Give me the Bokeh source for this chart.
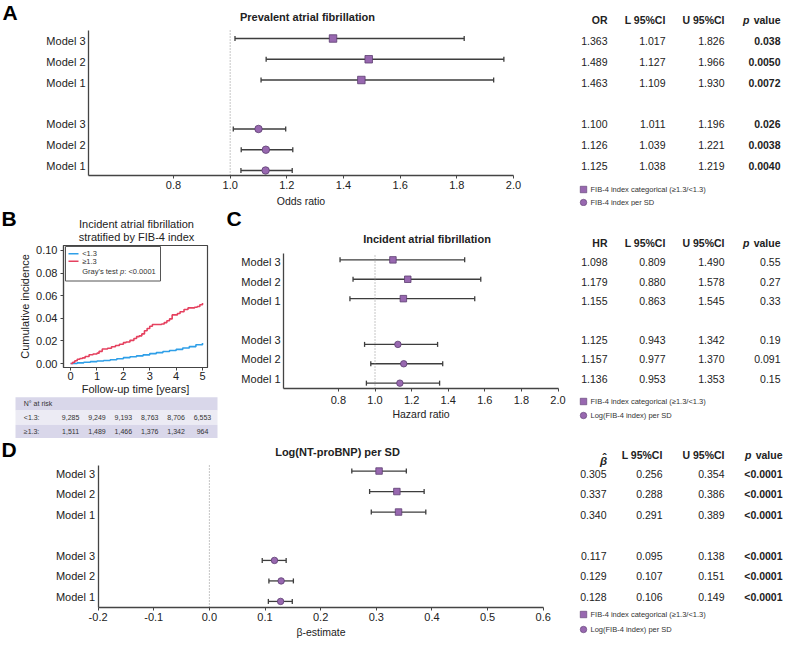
from bokeh.plotting import figure
from bokeh.models import (ColumnDataSource, FixedTicker, PrintfTickFormatter, Whisker,
                          TeeHead, Range1d, LinearAxis)
from bokeh.layouts import column
from bokeh.embed import file_html
from bokeh.resources import INLINE
from bokeh.core.properties import value

FONT = "Liberation Sans"

# ---------------- data ----------------
models = ["Model 3", "Model 2", "Model 1"]

A_cat_est = [1.363, 1.489, 1.463]
A_cat_lo = [1.017, 1.127, 1.109]
A_cat_hi = [1.826, 1.966, 1.930]
A_cat_p = ["0.038", "0.0050", "0.0072"]
A_sd_est = [1.100, 1.126, 1.125]
A_sd_lo = [1.011, 1.039, 1.038]
A_sd_hi = [1.196, 1.221, 1.219]
A_sd_p = ["0.026", "0.0038", "0.0040"]

C_cat_est = [1.098, 1.179, 1.155]
C_cat_lo = [0.809, 0.880, 0.863]
C_cat_hi = [1.490, 1.578, 1.545]
C_cat_p = ["0.55", "0.27", "0.33"]
C_sd_est = [1.125, 1.157, 1.136]
C_sd_lo = [0.943, 0.977, 0.953]
C_sd_hi = [1.342, 1.370, 1.353]
C_sd_p = ["0.19", "0.091", "0.15"]

D_cat_est = [0.305, 0.337, 0.340]
D_cat_lo = [0.256, 0.288, 0.291]
D_cat_hi = [0.354, 0.386, 0.389]
D_cat_p = ["<0.0001", "<0.0001", "<0.0001"]
D_sd_est = [0.117, 0.129, 0.128]
D_sd_lo = [0.095, 0.107, 0.106]
D_sd_hi = [0.138, 0.151, 0.149]
D_sd_p = ["<0.0001", "<0.0001", "<0.0001"]

ratio_ticks = [0.8, 1.0, 1.2, 1.4, 1.6, 1.8, 2.0]
beta_ticks = [-0.2, -0.1, 0.0, 0.1, 0.2, 0.3, 0.4, 0.5, 0.6]

time_ge = [0, 0.08, 0.16, 0.25, 0.35, 0.45, 0.55, 0.7, 0.85, 1.0, 1.08, 1.2, 1.4, 1.55, 1.7,
           1.85, 2.0, 2.1, 2.25, 2.4, 2.5, 2.6, 2.7, 2.8, 2.9, 3.0, 3.1, 3.45, 3.55, 3.65, 3.75,
           3.85, 4.05, 4.15, 4.3, 4.45, 4.7, 4.8, 4.9, 5.0]
cum_ge = [0, 0.0012, 0.0025, 0.0038, 0.0045, 0.005, 0.0062, 0.0078, 0.0085, 0.0092, 0.0108,
          0.0128, 0.0135, 0.0148, 0.016, 0.017, 0.0185, 0.019, 0.0205, 0.0222, 0.0238, 0.0245,
          0.0262, 0.029, 0.031, 0.033, 0.0345, 0.035, 0.0362, 0.0378, 0.0395, 0.043, 0.0442,
          0.0458, 0.0478, 0.0492, 0.0498, 0.0505, 0.052, 0.0535]
time_lt = [0, 0.25, 0.5, 0.75, 1.0, 1.25, 1.5, 1.75, 2.0, 2.25, 2.5, 2.75, 3.0, 3.25, 3.5,
           3.75, 4.0, 4.25, 4.5, 4.75, 5.0]
cum_lt = [0, 0.0006, 0.0012, 0.0017, 0.0022, 0.0027, 0.0033, 0.0042, 0.0052, 0.006, 0.0068,
          0.0077, 0.0088, 0.0097, 0.0106, 0.0115, 0.0125, 0.0138, 0.015, 0.0166, 0.0182]
time_ticks = [0, 1, 2, 3, 4, 5]
cuminc_ticks = [0.0, 0.02, 0.04, 0.06, 0.08, 0.10]
risk_times = [0, 1, 2, 3, 4, 5]
risk_lt = [9285, 9249, 9193, 8763, 8706, 6553]
risk_ge = [1511, 1489, 1466, 1376, 1342, 964]

# ---------------- style ----------------
PURPLE = "#9868b0"
PURPLE_DARK = "#5c3d70"
BAR = "#3d3d3d"
AXIS = "#444444"
TXT = "#222222"
BLUE = "#2f9fe8"
RED = "#e5415f"
W = 785

ROWS_CAT = [6, 5, 4]
ROWS_SD = [2, 1, 0]
CAT_SHIFT = 0.12
SD_SHIFT = -0.24


def lin(v0, p0, v1, p1, c):
    return v0 + (c - p0) * (v1 - v0) / (p1 - p0)


def make_row(top, bottom, xmap, ymap):
    xr = Range1d(lin(*xmap, 0), lin(*xmap, W))
    yr = Range1d(lin(*ymap, bottom), lin(*ymap, top))
    p = figure(width=W, height=bottom - top, x_range=xr, y_range=yr,
               output_backend="svg", toolbar_location=None, min_border=0)
    p.min_border_left = 0
    p.min_border_right = 0
    p.min_border_top = 0
    p.min_border_bottom = 0
    p.extra_x_ranges = {"px": Range1d(0, W)}
    p.extra_y_ranges = {"py": Range1d(bottom, top)}
    p.outline_line_color = None
    p.xgrid.visible = False
    p.ygrid.visible = False
    return p


def txt(p, xs, ys, texts, size, style="normal", align="left", baseline="middle",
        color=TXT, xr="px", yr="py", angle=0.0):
    p.text(x=xs, y=ys, text=texts, text_align=align, text_baseline=baseline,
           text_font=value(FONT), text_font_size=size, text_font_style=style,
           text_color=color, angle=angle, x_range_name=xr, y_range_name=yr)


def draw_forest(p, xb, ticks, ref, ymap, axis_ref, top_ref, cat, sd, msize, xlabel,
                tick_standoff, label_standoff):
    y_axis = lin(*ymap, axis_ref)
    y_top = lin(*ymap, top_ref)
    p.segment(x0=[ref], y0=[y_axis], x1=[ref], y1=[y_top], line_color="#8c8c8c",
              line_dash="1 2", line_width=1)
    for (est, lo, hi), rows, shift, marker in [(cat, ROWS_CAT, CAT_SHIFT, "square"),
                                               (sd, ROWS_SD, SD_SHIFT, "circle")]:
        src = ColumnDataSource(dict(y=[r + shift for r in rows], est=est, lo=lo, hi=hi))
        p.add_layout(Whisker(source=src, base="y", lower="lo", upper="hi", dimension="width",
                             line_color=BAR, line_width=1.3, level="underlay",
                             lower_head=TeeHead(size=5, line_color=BAR, line_width=1.3),
                             upper_head=TeeHead(size=5, line_color=BAR, line_width=1.3)))
        p.scatter("est", "y", source=src, marker=marker, size=msize, fill_color=PURPLE,
                  line_color=PURPLE_DARK, line_width=0.8)
    xa = p.xaxis[0]
    ya = p.yaxis[0]
    xa.fixed_location = y_axis
    xa.bounds = xb
    ya.fixed_location = xb[0]
    ya.bounds = (y_axis, y_top)
    ya.ticker = FixedTicker(ticks=ROWS_CAT + ROWS_SD)
    ov = {}
    for r, m in zip(ROWS_CAT, models):
        ov[r] = m
    for r, m in zip(ROWS_SD, models):
        ov[r] = m
    ya.major_label_overrides = ov
    ya.major_tick_line_color = None
    ya.major_tick_out = 0
    ya.major_tick_in = 0
    ya.major_label_standoff = 3
    xa.ticker = FixedTicker(ticks=ticks)
    xa.formatter = PrintfTickFormatter(format="%.1f")
    xa.major_tick_out = 3
    xa.major_tick_in = 0
    xa.major_tick_line_color = AXIS
    xa.major_label_standoff = tick_standoff
    for a in (xa, ya):
        a.minor_tick_line_color = None
        a.axis_line_color = AXIS
        a.axis_line_width = 1.3
        a.major_label_text_font = FONT
        a.major_label_text_font_size = "11px"
        a.major_label_text_color = TXT
    xa.axis_label = xlabel
    xa.axis_label_text_font = FONT
    xa.axis_label_text_font_size = "10.5px"
    xa.axis_label_text_font_style = "normal"
    xa.axis_label_text_color = TXT
    xa.axis_label_standoff = label_standoff


def draw_table(p, cols, headers, header_y, cat_vals, sd_vals, bold_p, leg_y, leg_labels,
               beta_head=False):
    for i, h in enumerate(headers):
        if i == 0 and beta_head:
            txt(p, [cols[0] - 3], [header_y + 6.5], ["\u03b2"], "11.5px", "bold italic",
                align="center")
            txt(p, [cols[0] - 2], [header_y + 2], ["\u02c6"], "11.5px", "bold",
                align="center")
        else:
            txt(p, [cols[i]], [header_y], [h], "10.5px", "bold", align="right")
    txt(p, [cols[3]], [header_y], ["value"], "10.5px", "bold", align="right")
    txt(p, [cols[3] - 31], [header_y], ["p"], "10.5px", "bold italic", align="right")
    for rows, (est, lo, hi, pv) in [(ROWS_CAT, cat_vals), (ROWS_SD, sd_vals)]:
        for j, vals in enumerate([est, lo, hi]):
            txt(p, [cols[j]] * 3, rows, ["%.3f" % v for v in vals], "10.5px", align="right",
                yr="default")
        txt(p, [cols[3]] * 3, rows, pv, "10.5px", "bold" if bold_p else "normal",
            align="right", yr="default")
    p.scatter(x=[583], y=[leg_y[0]], marker="square", size=6.5, fill_color=PURPLE,
              line_color=PURPLE_DARK, line_width=0.6, x_range_name="px", y_range_name="py")
    p.scatter(x=[583], y=[leg_y[1]], marker="circle", size=6.5, fill_color=PURPLE,
              line_color=PURPLE_DARK, line_width=0.6, x_range_name="px", y_range_name="py")
    txt(p, [590, 590], leg_y, leg_labels, "7.5px", color="#333333")


COLS_AC = [607, 665, 724, 780]
COLS_D = [606, 662, 724, 782]

# ---------------- row 1: panel A ----------------
A_x = (0.5, 88, 2.0, 513)
A_y = (0, 165, 6, 40.5)
p1 = make_row(0, 206, A_x, A_y)
draw_forest(p1, (0.5, 2.0), ratio_ticks, 1.0, A_y, 175, 30,
            (A_cat_est, A_cat_lo, A_cat_hi), (A_sd_est, A_sd_lo, A_sd_hi), 7.5,
            "Odds ratio", 2, 3)
txt(p1, [2], [11.5], ["A"], "21px", "bold", color="#000000")
txt(p1, [307], [16], ["Prevalent atrial fibrillation"], "11px", "bold", align="center")
draw_table(p1, COLS_AC, ["OR", "L 95%CI", "U 95%CI"], 19,
           (A_cat_est, A_cat_lo, A_cat_hi, A_cat_p), (A_sd_est, A_sd_lo, A_sd_hi, A_sd_p), True,
           [189, 202], ["FIB-4 index categorical (\u22651.3/<1.3)", "FIB-4 index per SD"])

# ---------------- row 2: panels B and C ----------------
C_x = (0.5, 283, 2.0, 557.5)
C_y = (0, 378, 6, 261.7)
p2 = make_row(206, 438, C_x, C_y)
draw_forest(p2, (0.5, 2.0), ratio_ticks, 1.0, C_y, 388, 253,
            (C_cat_est, C_cat_lo, C_cat_hi), (C_sd_est, C_sd_lo, C_sd_hi), 6.5,
            "Hazard ratio", 4, 1)
txt(p2, [226], [218], ["C"], "21px", "bold", color="#000000")
txt(p2, [426.5], [238], ["Incident atrial fibrillation"], "11px", "bold", align="center")
draw_table(p2, COLS_AC, ["HR", "L 95%CI", "U 95%CI"], 242,
           (C_cat_est, C_cat_lo, C_cat_hi, C_cat_p), (C_sd_est, C_sd_lo, C_sd_hi, C_sd_p), False,
           [401, 415], ["FIB-4 index categorical (\u22651.3/<1.3)", "Log(FIB-4 index) per SD"])

# panel B (cumulative incidence), own scales
bx0, bx1 = -0.27, 5.19
by0, by1 = -0.0035, 0.1044
B_x = (bx0, 63, bx1, 207)
B_y = (by0, 367, by1, 245)
p2.extra_x_ranges["bx"] = Range1d(lin(*B_x, 0), lin(*B_x, W))
p2.extra_y_ranges["by"] = Range1d(lin(*B_y, 438), lin(*B_y, 206))
p2.quad(left=[bx0], right=[bx1], bottom=[by0], top=[by1], fill_color=None,
        line_color=AXIS, line_width=1.2, x_range_name="bx", y_range_name="by")
p2.step(time_lt, cum_lt, mode="after", line_color=BLUE, line_width=1.6,
        x_range_name="bx", y_range_name="by")
p2.step(time_ge, cum_ge, mode="after", line_color=RED, line_width=1.6,
        x_range_name="bx", y_range_name="by")
bxa = LinearAxis(x_range_name="bx", y_range_name="by", fixed_location=by0, bounds=(bx0, bx1),
                 ticker=FixedTicker(ticks=time_ticks), axis_label="Follow-up time [years]")
bya = LinearAxis(x_range_name="bx", y_range_name="by", fixed_location=bx0, bounds=(by0, by1),
                 ticker=FixedTicker(ticks=cuminc_ticks), axis_label="Cumulative incidence",
                 formatter=PrintfTickFormatter(format="%.2f"))
for a in (bxa, bya):
    a.major_tick_out = 3
    a.major_tick_in = 0
    a.major_tick_line_color = AXIS
    a.minor_tick_line_color = None
    a.axis_line_color = AXIS
    a.axis_line_width = 1.2
    a.major_label_text_font = FONT
    a.major_label_text_font_size = "11px"
    a.major_label_text_color = TXT
    a.axis_label_text_font = FONT
    a.axis_label_text_font_size = "11px"
    a.axis_label_text_font_style = "normal"
    a.axis_label_text_color = TXT
bxa.major_label_standoff = 1
bxa.axis_label_standoff = 0
bya.major_label_standoff = 3
bya.axis_label_standoff = 2
p2.add_layout(bxa, "below")
p2.add_layout(bya, "left")
txt(p2, [1], [217.5], ["B"], "21px", "bold", color="#000000")
txt(p2, [136, 136], [223.3, 236.7], ["Incident atrial fibrillation", "stratified by FIB-4 index"],
    "11px", align="center")
# legend of B
p2.quad(left=[65], right=[160], bottom=[280.5], top=[246], fill_color="white",
        line_color="#555555", line_width=1, x_range_name="px", y_range_name="py")
p2.segment(x0=[68, 68], y0=[253.3, 260.7], x1=[78, 78], y1=[253.3, 260.7],
           line_color=[BLUE, RED], line_width=1.6, x_range_name="px", y_range_name="py")
txt(p2, [81.7, 81.7], [252.6, 260.7], ["<1.3", "\u22651.3"], "7.5px", color="#333333")
txt(p2, [81.7], [270.5], ["Gray's test"], "7.5px", color="#333333")
txt(p2, [119.6], [270.5], ["p"], "7.5px", "italic", color="#333333")
txt(p2, [123.8], [270.5], [": <0.0001"], "7.5px", color="#333333")
# number-at-risk table under B
p2.quad(left=[15, 15, 15], right=[217, 217, 217], top=[396.7, 410, 424.3],
        bottom=[410, 424.3, 438], fill_color=["#d9d7ea", "#ecebf4", "#d9d7ea"],
        line_color=None, x_range_name="px", y_range_name="py")
txt(p2, [23.3, 23.3, 23.3], [403, 417, 431], ["N\u00b0 at risk", "<1.3:", "\u22651.3:"],
    "7px", color="#333333")
txt(p2, risk_times, [417] * 6, ["{:,}".format(v) for v in risk_lt], "7px", align="center",
    color="#333333", xr="bx")
txt(p2, risk_times, [431] * 6, ["{:,}".format(v) for v in risk_ge], "7px", align="center",
    color="#333333", xr="bx")

# ---------------- row 3: panel D ----------------
D_x = (-0.2, 97.6, 0.6, 542.7)
D_y = (0, 596, 6, 473)
p3 = make_row(438, 644, D_x, D_y)
draw_forest(p3, (-0.2, 0.6), beta_ticks, 0.0, D_y, 607, 465,
            (D_cat_est, D_cat_lo, D_cat_hi), (D_sd_est, D_sd_lo, D_sd_hi), 6.5,
            "\u03b2-estimate", 2, 2)
txt(p3, [1], [449], ["D"], "21px", "bold", color="#000000")
txt(p3, [337], [451], ["Log(NT-proBNP) per SD"], "11px", "bold", align="center")
draw_table(p3, COLS_D, ["b", "L 95%CI", "U 95%CI"], 454,
           (D_cat_est, D_cat_lo, D_cat_hi, D_cat_p), (D_sd_est, D_sd_lo, D_sd_hi, D_sd_p), True,
           [614, 629], ["FIB-4 index categorical (\u22651.3/<1.3)", "Log(FIB-4 index) per SD"],
           beta_head=True)

layout = column(p1, p2, p3)
open("out.html", "w").write(file_html(layout, INLINE))
